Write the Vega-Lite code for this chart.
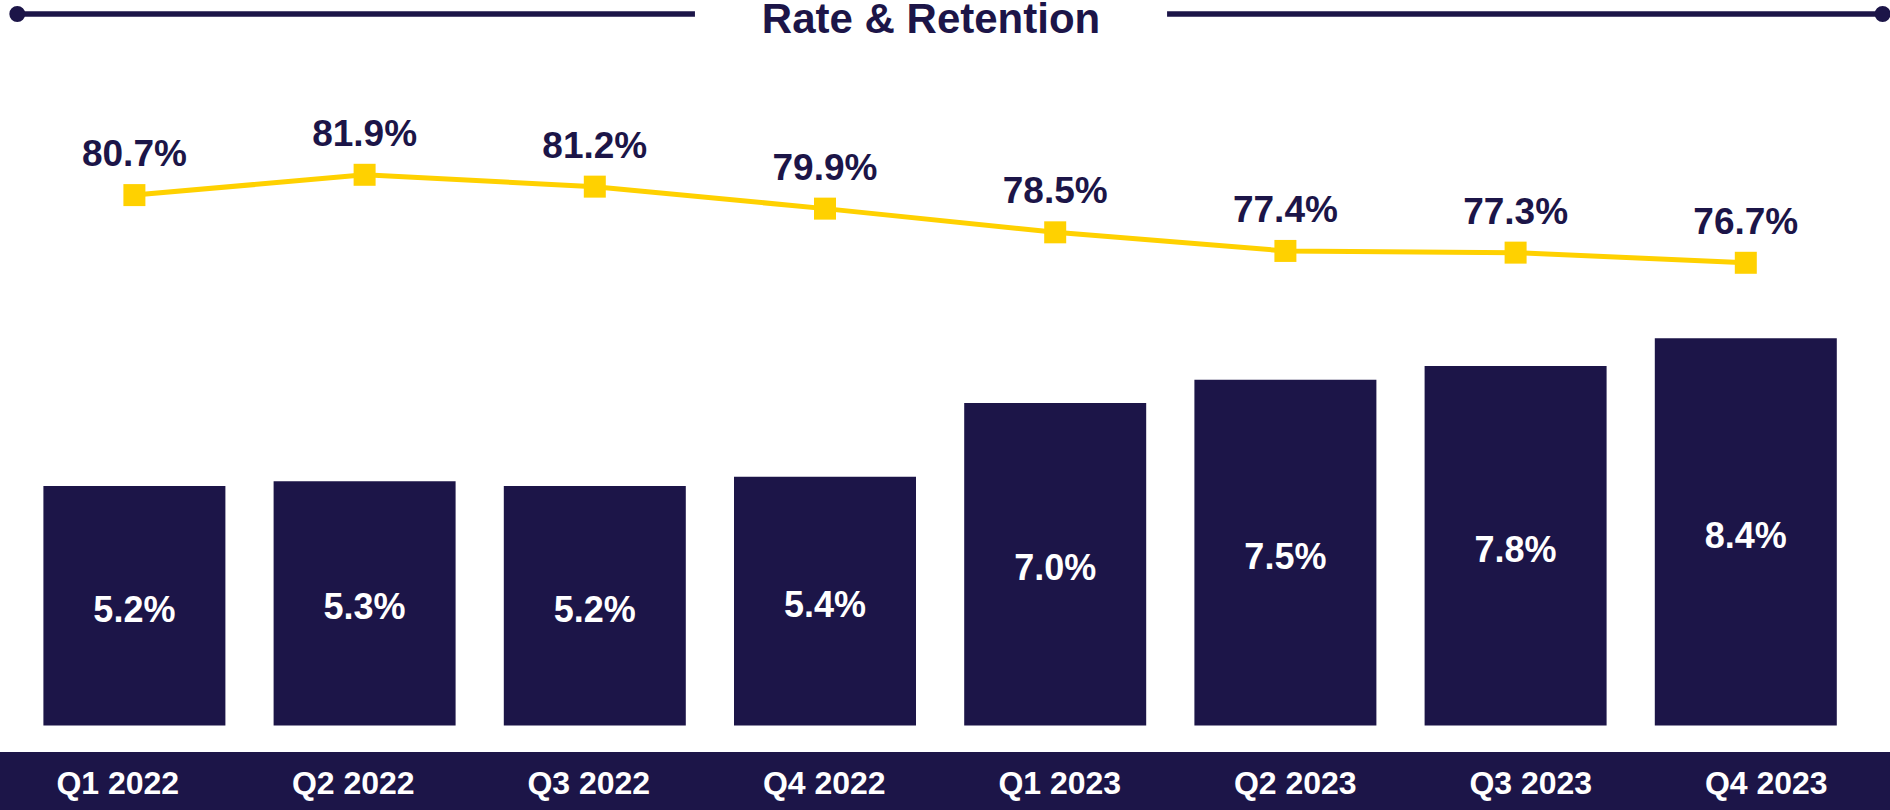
{
  "$schema": "https://vega.github.io/schema/vega-lite/v6.json",
  "width": 1890,
  "height": 810,
  "autosize": {"type": "none"},
  "padding": 0,
  "background": "#ffffff",
  "config": {"view": {"stroke": null}},
  "data": {
    "values": [
      {"quarter": "Q1 2022", "rate": 5.2, "retention": 80.7},
      {"quarter": "Q2 2022", "rate": 5.3, "retention": 81.9},
      {"quarter": "Q3 2022", "rate": 5.2, "retention": 81.2},
      {"quarter": "Q4 2022", "rate": 5.4, "retention": 79.9},
      {"quarter": "Q1 2023", "rate": 7.0, "retention": 78.5},
      {"quarter": "Q2 2023", "rate": 7.5, "retention": 77.4},
      {"quarter": "Q3 2023", "rate": 7.8, "retention": 77.3},
      {"quarter": "Q4 2023", "rate": 8.4, "retention": 76.7}
    ]
  },
  "resolve": {"scale": {"x": "independent", "y": "independent"}},
  "layer": [
    {
      "mark": {"type": "bar", "color": "#1c1548"},
      "encoding": {
        "x": {"field": "quarter", "type": "ordinal", "sort": null, "axis": null,
              "scale": {"type": "band", "range": [19.3, 1860.9], "paddingInner": 0.2094, "paddingOuter": 0.1047}},
        "y": {"field": "rate", "type": "quantitative", "axis": null,
              "scale": {"domain": [-1.831, 15.74], "zero": false, "nice": false}},
        "y2": {"datum": 0}
      }
    },
    {
      "mark": {"type": "text", "color": "#ffffff", "font": "Liberation Sans", "fontWeight": "bold", "fontSize": 36, "baseline": "alphabetic", "align": "center", "dy": 16,
               "text": {"expr": "format(datum.rate, '.1f') + '%'"}},
      "encoding": {
        "x": {"field": "quarter", "type": "ordinal", "sort": null, "axis": null,
              "scale": {"type": "band", "range": [19.3, 1860.9], "paddingInner": 0.2094, "paddingOuter": 0.1047}},
        "y": {"field": "rate", "type": "quantitative", "axis": null,
              "scale": {"domain": [-3.662, 31.48], "zero": false, "nice": false}}
      }
    },
    {
      "mark": {"type": "line", "color": "#ffd100", "strokeWidth": 5},
      "encoding": {
        "x": {"field": "quarter", "type": "ordinal", "sort": null, "axis": null,
              "scale": {"type": "band", "range": [19.3, 1860.9], "paddingInner": 0.2094, "paddingOuter": 0.1047}},
        "y": {"field": "retention", "type": "quantitative", "axis": null,
              "scale": {"domain": [44.36, 92.23], "zero": false, "nice": false}}
      }
    },
    {
      "mark": {"type": "point", "shape": "square", "size": 484, "filled": true, "color": "#ffd100", "opacity": 1},
      "encoding": {
        "x": {"field": "quarter", "type": "ordinal", "sort": null, "axis": null,
              "scale": {"type": "band", "range": [19.3, 1860.9], "paddingInner": 0.2094, "paddingOuter": 0.1047}},
        "y": {"field": "retention", "type": "quantitative", "axis": null,
              "scale": {"domain": [44.36, 92.23], "zero": false, "nice": false}}
      }
    },
    {
      "mark": {"type": "text", "color": "#1c1548", "font": "Liberation Sans", "fontWeight": "bold", "fontSize": 37, "baseline": "alphabetic", "align": "center", "dy": -29,
               "text": {"expr": "format(datum.retention, '.1f') + '%'"}},
      "encoding": {
        "x": {"field": "quarter", "type": "ordinal", "sort": null, "axis": null,
              "scale": {"type": "band", "range": [19.3, 1860.9], "paddingInner": 0.2094, "paddingOuter": 0.1047}},
        "y": {"field": "retention", "type": "quantitative", "axis": null,
              "scale": {"domain": [44.36, 92.23], "zero": false, "nice": false}}
      }
    },
    {
      "data": {"values": [{"band": "axis"}]},
      "mark": {"type": "rect", "color": "#1c1548"},
      "encoding": {
        "x": {"datum": 0, "type": "quantitative", "axis": null, "scale": {"domain": [0, 100], "nice": false, "zero": false}},
        "x2": {"datum": 100},
        "y": {"datum": 92.84, "type": "quantitative", "axis": null, "scale": {"domain": [0, 100], "reverse": true, "nice": false, "zero": false}},
        "y2": {"datum": 100}
      }
    },
    {
      "mark": {"type": "text", "color": "#ffffff", "font": "Liberation Sans", "fontWeight": "bold", "fontSize": 32, "baseline": "alphabetic", "align": "center"},
      "encoding": {
        "x": {"field": "quarter", "type": "ordinal", "sort": null, "axis": null,
              "scale": {"type": "band", "range": [0, 1884], "paddingInner": 0, "paddingOuter": 0}},
        "y": {"datum": 98.02, "type": "quantitative", "axis": null, "scale": {"domain": [0, 100], "reverse": true, "nice": false, "zero": false}},
        "text": {"field": "quarter", "type": "nominal"}
      }
    },
    {
      "data": {"values": [{"title": "Rate & Retention"}]},
      "encoding": {
        "x": {"type": "quantitative", "axis": null, "scale": {"domain": [0, 100], "nice": false, "zero": false}},
        "y": {"type": "quantitative", "axis": null, "scale": {"domain": [0, 100], "reverse": true, "nice": false, "zero": false}}
      },
      "layer": [
        {
          "mark": {"type": "rule", "color": "#1c1548", "strokeWidth": 5.5},
          "encoding": {"x": {"datum": 0.915, "type": "quantitative"}, "x2": {"datum": 36.77}, "y": {"datum": 1.728, "type": "quantitative"}}
        },
        {
          "mark": {"type": "rule", "color": "#1c1548", "strokeWidth": 5.5},
          "encoding": {"x": {"datum": 61.75, "type": "quantitative"}, "x2": {"datum": 99.61}, "y": {"datum": 1.728, "type": "quantitative"}}
        },
        {
          "mark": {"type": "circle", "color": "#1c1548", "size": 254, "opacity": 1},
          "encoding": {"x": {"datum": 0.915, "type": "quantitative"}, "y": {"datum": 1.728, "type": "quantitative"}}
        },
        {
          "mark": {"type": "circle", "color": "#1c1548", "size": 254, "opacity": 1},
          "encoding": {"x": {"datum": 99.61, "type": "quantitative"}, "y": {"datum": 1.728, "type": "quantitative"}}
        },
        {
          "mark": {"type": "text", "color": "#1c1548", "font": "Liberation Sans", "fontWeight": "bold", "fontSize": 42, "baseline": "alphabetic", "align": "center"},
          "encoding": {"x": {"datum": 49.26, "type": "quantitative"}, "y": {"datum": 4.1, "type": "quantitative"}, "text": {"field": "title", "type": "nominal"}}
        }
      ]
    }
  ]
}
